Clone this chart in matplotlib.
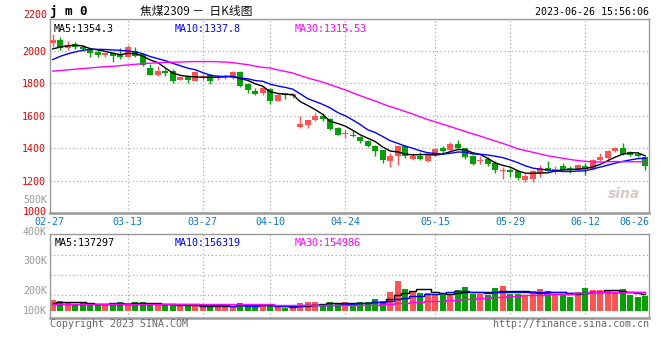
import numpy as np
import pandas as pd
import matplotlib
matplotlib.use("Agg")
import matplotlib.pyplot as plt

# daily candles 2023-02-27 .. 2023-06-26 (jm0, coking coal)
opens = [2045, 2065, 2014, 2041, 2025, 2004, 1992, 1976, 1984, 1980,
         1959, 2000, 1980, 1896, 1851, 1878, 1878, 1821, 1841, 1811,
         1837, 1851, 1831, 1833, 1831, 1866, 1796, 1753, 1743, 1763,
         1688, 1739, 1723, 1529, 1541, 1576, 1602, 1580, 1525, 1490,
         1484, 1468, 1447, 1413, 1388, 1321, 1351, 1417, 1337, 1355,
         1325, 1362, 1402, 1388, 1429, 1402, 1351, 1323, 1335, 1311,
         1262, 1266, 1260, 1209, 1215, 1249, 1280, 1254, 1290, 1280,
         1270, 1290, 1274, 1327, 1341, 1382, 1402, 1376, 1368, 1347]
closes = [2065, 2014, 2035, 2021, 2008, 1984, 1976, 1988, 1968, 1959,
          2025, 1968, 1912, 1851, 1878, 1862, 1811, 1841, 1817, 1866,
          1845, 1815, 1841, 1841, 1866, 1780, 1759, 1735, 1770, 1694,
          1729, 1729, 1733, 1551, 1576, 1602, 1582, 1521, 1484, 1496,
          1474, 1443, 1417, 1382, 1327, 1351, 1417, 1351, 1355, 1337,
          1357, 1396, 1382, 1429, 1402, 1347, 1307, 1331, 1307, 1266,
          1270, 1254, 1219, 1233, 1260, 1280, 1260, 1274, 1270, 1266,
          1296, 1274, 1327, 1347, 1382, 1402, 1368, 1362, 1351, 1290]
highs = [2102, 2082, 2061, 2053, 2035, 2018, 2004, 1992, 1994, 2014,
         2035, 2025, 1984, 1917, 1908, 1886, 1886, 1845, 1853, 1872,
         1855, 1857, 1851, 1851, 1872, 1872, 1804, 1770, 1780, 1770,
         1739, 1743, 1739, 1596, 1576, 1617, 1617, 1586, 1529, 1515,
         1515, 1478, 1453, 1423, 1392, 1372, 1417, 1423, 1372, 1376,
         1372, 1402, 1413, 1437, 1453, 1402, 1362, 1356, 1347, 1321,
         1284, 1280, 1270, 1243, 1270, 1300, 1321, 1290, 1311, 1294,
         1305, 1311, 1335, 1372, 1388, 1409, 1433, 1382, 1376, 1347]
lows = [2025, 2004, 2004, 2008, 2000, 1959, 1963, 1959, 1933, 1947,
        1959, 1959, 1906, 1851, 1847, 1847, 1804, 1817, 1804, 1811,
        1821, 1796, 1821, 1825, 1825, 1776, 1743, 1729, 1729, 1674,
        1688, 1702, 1708, 1525, 1525, 1566, 1566, 1515, 1484, 1464,
        1470, 1433, 1409, 1356, 1311, 1286, 1300, 1341, 1331, 1331,
        1315, 1351, 1372, 1376, 1396, 1335, 1300, 1307, 1290, 1249,
        1213, 1225, 1209, 1192, 1192, 1225, 1254, 1245, 1266, 1249,
        1266, 1239, 1270, 1321, 1335, 1376, 1362, 1356, 1347, 1266]
volumes = [88000, 80000, 66000, 52000, 71000, 52000, 52000, 52000, 52000, 71000,
           63000, 71000, 71000, 57000, 52000, 52000, 52000, 43000, 43000, 43000,
           43000, 43000, 43000, 43000, 43000, 63000, 43000, 43000, 52000, 39000,
           39000, 25000, 25000, 63000, 71000, 71000, 55000, 71000, 63000, 71000,
           63000, 71000, 71000, 98000, 80000, 153000, 246000, 178000, 162000, 150000,
           150000, 142000, 137000, 137000, 170000, 194000, 142000, 142000, 129000, 186000,
           203000, 142000, 142000, 129000, 162000, 178000, 162000, 134000, 142000, 112000,
           153000, 186000, 170000, 170000, 170000, 153000, 178000, 129000, 112000, 121000]

# moving-average values before a full window exists
ma5_head = [2010, 2022, 2030, 2033]
ma10_head = [1945, 1965, 1980, 1992, 2002, 2008, 2008, 2007, 2004]
ma30_head = [1874, 1878, 1882, 1886, 1890, 1894, 1898, 1901, 1904, 1908,
             1912, 1916, 1920, 1923, 1925, 1928, 1929, 1930, 1932, 1933,
             1933, 1933, 1932, 1930, 1926, 1920, 1914, 1905, 1897]
vol_ma5_head = [66000, 70000, 70000, 70000]
vol_ma10_head = [58000, 58000, 59000, 59000, 60000, 60000, 61000, 61000, 62000]
vol_ma30_head = [56000, 56000, 56000, 56000, 56000, 56000, 56000, 56000, 56000, 56000,
                 56000, 56000, 56000, 56000, 56000, 56000, 56000, 56000, 56000, 56000,
                 55000, 55000, 55000, 55000, 55000, 55000, 55000, 55000, 55000]

date_labels = ["02-27", "03-13", "03-27", "04-10", "04-24", "05-15", "05-29", "06-12", "06-26"]
date_index = [0, 10, 20, 29, 39, 51, 61, 71, 79]
price_ticks = [1200, 1400, 1600, 1800, 2000]
vol_labels = ["400K", "300K", "200K", "100K"]
vol_label_pos = [648000, 410000, 164000, 0]
vol_grid = [131000, 295000, 459000]

RED = "#fa5555"
GREEN = "#079e07"
GRIDC = "#aaaaaa"
MONO = "DejaVu Sans Mono"
FS = 7.2


def moving_avg(values, n, head):
    ma = pd.Series(values, dtype=float).rolling(n).mean().to_numpy()
    ma[: n - 1] = head
    return ma


o = np.array(opens, float)
c = np.array(closes, float)
h = np.array(highs, float)
l = np.array(lows, float)
v = np.array(volumes, float)
x = np.arange(len(c))
up = c >= o
cols = np.where(up, RED, GREEN)

fig = plt.figure(figsize=(6.6, 3.6), dpi=100)
W, H = 660.0, 360.0


def box(x0, y0, x1, y1):
    return [x0 / W, 1 - y1 / H, (x1 - x0) / W, (y1 - y0) / H]


ax1 = fig.add_axes(box(50, 19, 649, 213))
ax2 = fig.add_axes(box(50, 234, 649, 318))

xlim = (-0.36, 79.5)

# ---- price panel
for gx in date_index[1:-1]:
    ax1.axvline(gx, color=GRIDC, lw=0.9, ls=(0, (1, 2)), zorder=0)
for gy in price_ticks:
    ax1.axhline(gy, color=GRIDC, lw=0.9, ls=(0, (1, 2)), zorder=0)

ax1.vlines(x, l, h, colors=cols, lw=1, zorder=2)
body = np.maximum(np.abs(c - o), 5)
ax1.bar(x, body, bottom=np.minimum(o, c), width=0.78, color=cols, zorder=3, linewidth=0)

ax1.plot(x, moving_avg(c, 5, ma5_head), color="black", lw=1, zorder=4)
ax1.plot(x, moving_avg(c, 10, ma10_head), color="#0000ff", lw=1, zorder=4)
ax1.plot(x, moving_avg(c, 30, ma30_head), color="#ff00ff", lw=1, zorder=4)

ax1.set_xlim(*xlim)
ax1.set_ylim(1004, 2194)
ax1.set_xticks([])
ax1.set_yticks(price_ticks)
ax1.set_yticklabels([str(t) for t in price_ticks], color="#ee0000", fontsize=FS, family=MONO)
ax1.tick_params(axis="y", length=0, pad=3)
yt = ax1.get_yaxis_transform()
ax1.text(-0.005, 2217, "2200", transform=yt, ha="right", va="center", color="#ee0000",
         fontsize=FS, family=MONO, clip_on=False)
ax1.text(-0.005, 1012, "1000", transform=yt, ha="right", va="center", color="#ee0000",
         fontsize=FS, family=MONO, clip_on=False)
ax1.text(-0.005, 1086, "500K", transform=yt, ha="right", va="center", color="#999999",
         fontsize=FS, family=MONO, clip_on=False)

xt = ax1.get_xaxis_transform()
for lab, idx in zip(date_labels, date_index):
    ha = "center"
    pos = idx
    if idx == date_index[0]:
        pos = -0.45
    if idx == date_index[-1]:
        pos, ha = xlim[1], "right"
    ax1.text(pos, -0.045, lab, transform=xt, ha=ha, va="center", color="#0a78c8",
             fontsize=FS, family=MONO, clip_on=False)

ax1.text(0.006, 0.975, "MA5:1354.3", transform=ax1.transAxes, va="top", fontsize=FS, family=MONO, color="black")
ax1.text(0.208, 0.975, "MA10:1337.8", transform=ax1.transAxes, va="top", fontsize=FS, family=MONO, color="#0000ff")
ax1.text(0.408, 0.975, "MA30:1315.53", transform=ax1.transAxes, va="top", fontsize=FS, family=MONO, color="#ff00ff")
ax1.text(0.985, 0.06, "sina", transform=ax1.transAxes, ha="right", va="bottom", fontsize=10,
         style="italic", weight="bold", color="#d8c8c8", zorder=1)

# ---- volume panel
for gx in date_index[1:-1]:
    ax2.axvline(gx, color=GRIDC, lw=0.9, ls=(0, (1, 2)), zorder=0)
for gy in vol_grid:
    ax2.axhline(gy, color=GRIDC, lw=0.9, ls=(0, (1, 2)), zorder=0)

ax2.bar(x, v, width=0.8, color=cols, zorder=2, linewidth=0)
ax2.plot(x, moving_avg(v, 5, vol_ma5_head), color="black", lw=1, drawstyle="steps-mid", zorder=3)
ax2.plot(x, moving_avg(v, 10, vol_ma10_head), color="#0000ff", lw=1, drawstyle="steps-mid", zorder=3)
ax2.plot(x, moving_avg(v, 30, vol_ma30_head), color="#ff00ff", lw=1, drawstyle="steps-mid", zorder=3)
ax2.set_xlim(*xlim)
ax2.set_ylim(-57000, 631000)
ax2.set_xticks([])
ax2.set_yticks([])
yt2 = ax2.get_yaxis_transform()
for lab, val in zip(vol_labels, vol_label_pos):
    ax2.text(-0.005, val, lab, transform=yt2, ha="right", va="center", color="#999999",
             fontsize=FS, family=MONO, clip_on=False)
ax2.text(0.008, 0.95, "MA5:137297", transform=ax2.transAxes, va="top", fontsize=FS, family=MONO, color="black")
ax2.text(0.208, 0.95, "MA10:156319", transform=ax2.transAxes, va="top", fontsize=FS, family=MONO, color="#0000ff")
ax2.text(0.408, 0.95, "MA30:154986", transform=ax2.transAxes, va="top", fontsize=FS, family=MONO, color="#ff00ff")

for ax in (ax1, ax2):
    for side in ("top", "right", "left"):
        ax.spines[side].set_color("#999999")
        ax.spines[side].set_linewidth(1)
    ax.spines["bottom"].set_color("#999999")
    ax.spines["bottom"].set_linewidth(1.8)

# ---- header / footer
fig.text(50 / W, 1 - 11 / H, "j m 0", fontsize=9, family=MONO, weight="bold", va="center")
fig.text(140 / W, 1 - 11 / H, "焦煤2309 －  日K线图", fontsize=8.5, va="center",
         family=["Noto Sans CJK SC", "DejaVu Sans"], color="#111111")
fig.text(649 / W, 1 - 12 / H, "2023-06-26 15:56:06", fontsize=FS, family=MONO, ha="right", va="center")
fig.text(50 / W, 1 - 324 / H, "Copyright 2023 SINA.COM", fontsize=FS, family=MONO, color="#666666", va="center")
fig.text(649 / W, 1 - 324 / H, "http://finance.sina.com.cn", fontsize=FS, family=MONO,
         color="#666666", ha="right", va="center")

fig.savefig("out.png", dpi=100, facecolor="white")
